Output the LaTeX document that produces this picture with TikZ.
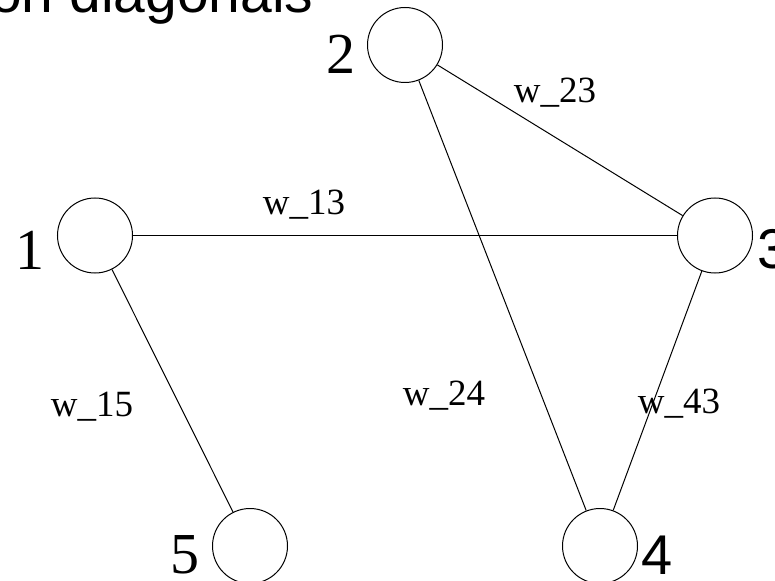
\documentclass[tikz,border=0pt]{standalone}
\usepackage{fontspec}
\setmainfont{Liberation Serif}
\newfontfamily\sansf{Liberation Sans}
\begin{document}
\begin{tikzpicture}[x=1bp,y=-1bp,
  vert/.style={circle,draw,line width=1bp,minimum size=75bp,inner sep=0pt},
  edge/.style={line width=1bp},
  wlab/.style={anchor=base,font=\fontsize{37bp}{40bp}\selectfont,inner sep=0pt},
  numlab/.style={anchor=base,font=\fontsize{58bp}{60bp}\selectfont,inner sep=0pt},
  snumlab/.style={anchor=base,font=\sansf\fontsize{56bp}{60bp}\selectfont,inner sep=0pt},
  titlelab/.style={anchor=base west,font=\sansf\fontsize{57bp}{60bp}\selectfont,inner sep=0pt}]
\useasboundingbox (0,0) rectangle (775,581);
\node[titlelab] (title) at (-10,13) {on diagonals};
\node[vert] (n1) at (95,235.5) {};
\node[vert] (n2) at (405,45) {};
\node[vert] (n3) at (715,235.5) {};
\node[vert] (n4) at (600,546) {};
\node[vert] (n5) at (250,546) {};
\draw[edge] (n1) -- (n3);
\draw[edge] (n1) -- (n5);
\draw[edge] (n2) -- (n3);
\draw[edge] (n2) -- (n4);
\draw[edge] (n3) -- (n4);
\node[numlab] (l1) at (30,269) {1};
\node[numlab] (l2) at (341,74) {2};
\node[snumlab] (l3) at (773,268) {3};
\node[snumlab] (l4) at (657,574) {4};
\node[numlab] (l5) at (185,573) {5};
\node[wlab] (w13) at (304,215) {w\_13};
\node[wlab] (w23) at (555,103) {w\_23};
\node[wlab] (w15) at (92,416) {w\_15};
\node[wlab] (w24) at (444,405) {w\_24};
\node[wlab] (w43) at (679,413) {w\_43};
\end{tikzpicture}
\end{document}
